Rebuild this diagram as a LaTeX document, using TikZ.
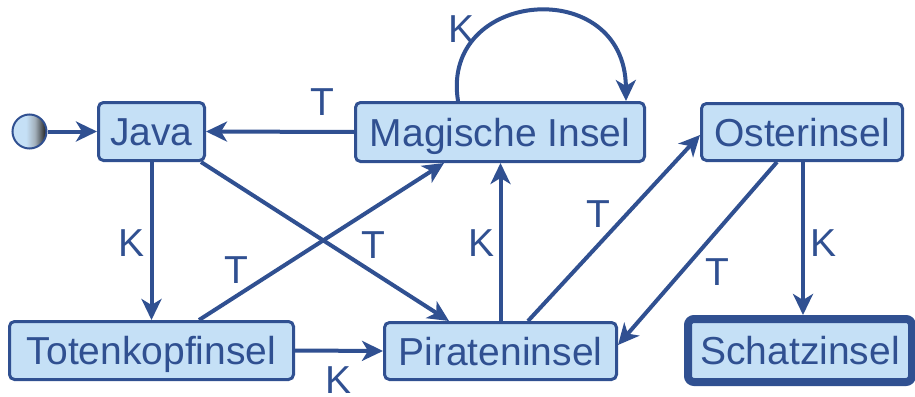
\documentclass[tikz,border=0pt]{standalone}
\usepackage{fontspec}
\setmainfont{Liberation Sans}
\usetikzlibrary{arrows.meta,calc}
\definecolor{boxfill}{RGB}{197,224,246}
\definecolor{ink}{RGB}{48,80,145}
\pgfdeclarehorizontalshading{startshade}{100bp}{color(0bp)=(boxfill); color(25bp)=(boxfill); color(45bp)=(boxfill); color(58bp)=(boxfill!50!gray); color(75bp)=(black!90); color(100bp)=(black!90)}
\tikzset{
  state/.style={draw=ink, line width=3pt, fill=boxfill, rounded corners=5pt,
    text=ink, font=\fontsize{39}{39}\selectfont, inner sep=0pt,
    text height=28pt, text depth=0pt},
  final/.style={state, line width=8pt, rounded corners=6pt},
  lbl/.style={text=ink, font=\fontsize{39}{39}\selectfont, inner sep=0pt},
  arr/.style={draw=ink, line width=4pt, -{Stealth[length=21pt,width=20pt,inset=6pt]}},
}
\begin{document}
\begin{tikzpicture}[x=1pt,y=-1pt]
\useasboundingbox (0,0) rectangle (915,396);
% nodes
\node[circle, draw=ink, line width=2pt, minimum size=34pt, inner sep=0pt, shading=startshade] (start) at (29.5,131.5) {};
\node[state, minimum width=106pt, minimum height=58pt] (java) at (151.5,131.5) {Java};
\node[state, minimum width=289pt, minimum height=59pt] (mag) at (500,132) {Magische Insel};
\node[state, minimum width=201pt, minimum height=57pt] (oster) at (802,132) {Osterinsel};
\node[state, minimum width=284pt, minimum height=58pt] (toten) at (151.5,350.5) {Totenkopfinsel};
\node[state, minimum width=232pt, minimum height=57pt] (pirat) at (500.5,351) {Pirateninsel};
\node[final, minimum width=224pt, minimum height=63pt] (schatz) at (800,350.5) {Schatzinsel};
% connectors
\draw[arr] (start) -- (java);
\draw[arr] (mag.west) -- (java.east);
\draw[arr] ($(mag.north)+(-42,0)$) .. controls ($(mag.north)+(-60,-112)$) and ($(mag.north)+(125,-127)$) .. ($(mag.north)+(126,0)$);
\draw[arr] (java.south) -- (java.south |- toten.north);
\draw[arr] ($(java.south east)+(-5,0)$) -- ($(pirat.north west)+(66,0)$);
\draw[arr] ($(toten.north west)+(191,0)$) -- ($(mag.south west)+(90,0)$);
\draw[arr] (toten.east) -- (pirat.west);
\draw[arr] (pirat.north) -- (pirat.north |- mag.south);
\draw[arr] ($(pirat.north east)+(-90,0)$) -- ($(oster.west)+(0,3)$);
\draw[arr] ($(oster.south)+(-25,0)$) -- ($(pirat.east)+(0,-6)$);
\draw[arr] ($(oster.south)+(1,0)$) -- ($(oster.south |- schatz.north)+(1,0)$);
% labels
\node[lbl] (l1) at (322,102.5) {T};
\node[lbl] (l2) at (461,29) {K};
\node[lbl] (l3) at (131.5,243) {K};
\node[lbl] (l4) at (373,245) {T};
\node[lbl] (l5) at (236.5,270) {T};
\node[lbl] (l6) at (339,380) {K};
\node[lbl] (l7) at (481,243) {K};
\node[lbl] (l8) at (598,214) {T};
\node[lbl] (l9) at (717,272) {T};
\node[lbl] (l10) at (823,243) {K};
\end{tikzpicture}
\end{document}
